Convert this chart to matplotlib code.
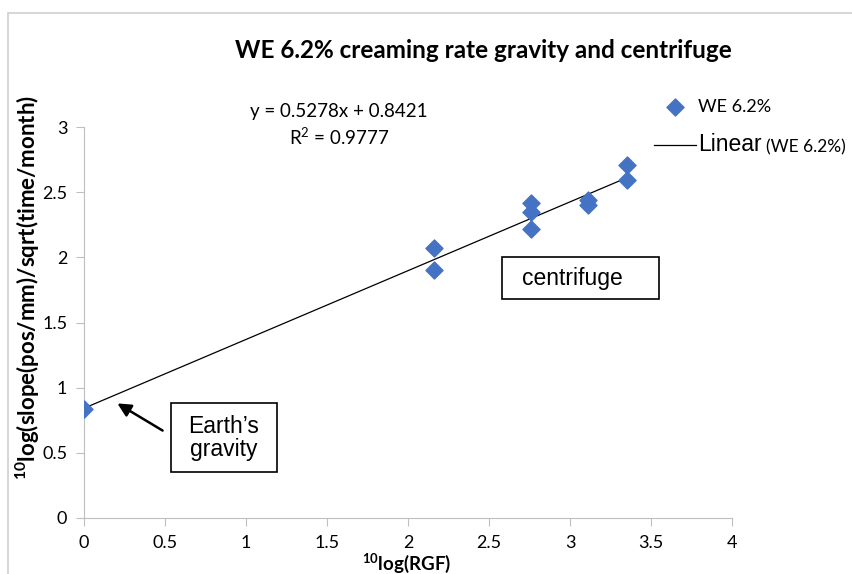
import matplotlib
matplotlib.use("Agg")
import matplotlib.pyplot as plt
from matplotlib.patches import Rectangle
import numpy as np

# ── data ──
log_rgf = [0.0, 2.16, 2.16, 2.76, 2.76, 2.76, 3.11, 3.11, 3.35, 3.35]
log_rate = [0.84, 2.07, 1.90, 2.42, 2.35, 2.22, 2.44, 2.40, 2.71, 2.59]
slope, intercept, r2 = 0.5278, 0.8421, 0.9777
xticks = [0, 0.5, 1, 1.5, 2, 2.5, 3, 3.5, 4]
yticks = [0, 0.5, 1, 1.5, 2, 2.5, 3]

BLUE = '#4472C4'
GRAY = '#BFBFBF'
CAL = ['Lato', 'DejaVu Sans']
ARIAL = ['Liberation Sans', 'DejaVu Sans']
plt.rcParams['mathtext.default'] = 'regular'

fig = plt.figure(figsize=(8.52, 5.74), dpi=100)
ax = fig.add_axes([84/852, 1-518/574, (732-84)/852, (518-127)/574])

def fx(px): return px/852
def fy(py): return 1 - py/574

# border of the chart area
fig.patches.append(Rectangle((fx(8), -0.1), 2, 1.1 - 13/574, transform=fig.transFigure,
                             fill=False, edgecolor='#D0D0D0', linewidth=1.2))

ax.scatter(log_rgf, log_rate, marker='D', s=75, color=BLUE, zorder=3, label='WE 6.2%')
xs = np.array([min(log_rgf), max(log_rgf)])
ax.plot(xs, slope*xs + intercept, color='black', linewidth=0.9, zorder=2, label='Linear')

ax.set_xlim(0, 4); ax.set_ylim(0, 3)
ax.set_xticks(xticks); ax.set_yticks(yticks)
ax.set_xticklabels([f'{t:g}' for t in xticks], family=CAL, fontsize=13)
ax.set_yticklabels([f'{t:g}' for t in yticks], family=CAL, fontsize=13)
for s in ['top', 'right']:
    ax.spines[s].set_visible(False)
for s in ['left', 'bottom']:
    ax.spines[s].set_color(GRAY)
ax.tick_params(direction='out', length=6, color=GRAY, pad=6)

ax.set_xlabel(r'$^{10}$log(RGF)', family=CAL, fontsize=13.5, fontweight='bold')
ax.xaxis.set_label_coords((407-84)/648, (518-552)/391)
ax.set_ylabel(r'$^{10}$log(slope(pos/mm)/sqrt(time/month)', family=CAL, fontsize=16,
              fontweight='bold')
ax.yaxis.set_label_coords((42-84)/648, (518-287)/391)

fig.text(fx(483), fy(50), 'WE 6.2% creaming rate gravity and centrifuge', family=CAL,
         fontsize=17.5, fontweight='bold', ha='center', va='center')

fig.text(fx(339), fy(112), f'y = {slope}x + {intercept}', family=CAL, fontsize=13.5,
         ha='center', va='center')
fig.text(fx(339), fy(137), f'R$^2$ = {r2}', family=CAL, fontsize=13.5,
         ha='center', va='center')

# legend
leg = ax.legend(loc='upper left', bbox_to_anchor=(fx(647), fy(92)),
                bbox_transform=fig.transFigure, frameon=False, handlelength=2.3,
                handletextpad=0.15, labelspacing=1.0, borderaxespad=0, fontsize=13)
leg.get_texts()[0].set_family(CAL); leg.get_texts()[0].set_fontsize(13)
leg.get_texts()[1].set_family(ARIAL); leg.get_texts()[1].set_fontsize(16.5)
fig.text(fx(766), fy(147), '(WE 6.2%)', family=CAL, fontsize=12.5, ha='left', va='center')

# annotation boxes
fig.patches.append(Rectangle((fx(502), fy(299)), (659-502)/852, (299-257)/574,
                             transform=fig.transFigure, fill=False, edgecolor='black', lw=1.2))
fig.text(fx(522), fy(279), 'centrifuge', family=ARIAL, fontsize=16.5, ha='left', va='center')

fig.patches.append(Rectangle((fx(171), fy(472)), (277-171)/852, (472-403)/574,
                             transform=fig.transFigure, fill=False, edgecolor='black', lw=1.2))
fig.text(fx(224), fy(438), 'Earth’s\ngravity', family=ARIAL, fontsize=16.5,
         ha='center', va='center', linespacing=1.05)
ax.annotate('', xy=(fx(115), fy(402)), xytext=(fx(165), fy(432)),
            xycoords='figure fraction', textcoords='figure fraction',
            arrowprops=dict(arrowstyle='-|>', color='black', lw=1.8, mutation_scale=20))

fig.savefig('out.png', dpi=100)
